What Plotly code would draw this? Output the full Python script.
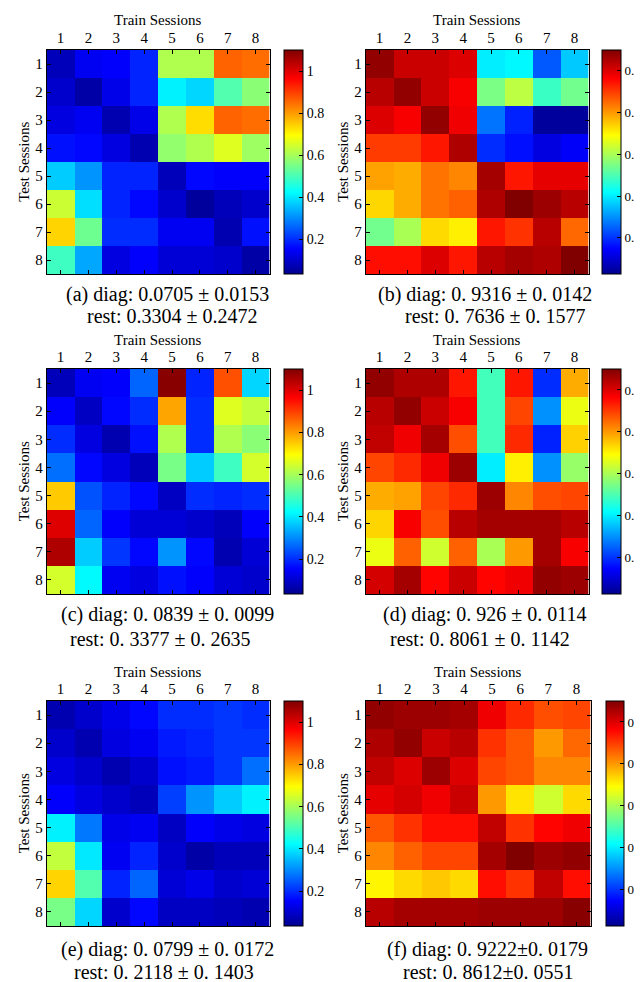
import plotly.graph_objects as go

sessions = [1, 2, 3, 4, 5, 6, 7, 8]

# (a) error rates
z_a = [
    [0.08, 0.14, 0.15, 0.19, 0.61, 0.61, 0.86, 0.85],
    [0.10, 0.06, 0.13, 0.19, 0.41, 0.38, 0.51, 0.57],
    [0.12, 0.14, 0.07, 0.13, 0.61, 0.73, 0.86, 0.85],
    [0.17, 0.16, 0.12, 0.07, 0.58, 0.61, 0.66, 0.59],
    [0.37, 0.31, 0.19, 0.19, 0.08, 0.16, 0.15, 0.15],
    [0.64, 0.39, 0.19, 0.16, 0.10, 0.05, 0.08, 0.10],
    [0.74, 0.54, 0.20, 0.20, 0.14, 0.14, 0.07, 0.17],
    [0.49, 0.33, 0.12, 0.15, 0.11, 0.11, 0.10, 0.06],
]
# (b) accuracies
z_b = [
    [0.94, 0.91, 0.91, 0.90, 0.60, 0.605, 0.52, 0.58],
    [0.92, 0.94, 0.91, 0.885, 0.675, 0.71, 0.64, 0.67],
    [0.90, 0.885, 0.94, 0.89, 0.534, 0.49, 0.42, 0.42],
    [0.85, 0.85, 0.87, 0.925, 0.496, 0.48, 0.456, 0.47],
    [0.795, 0.79, 0.82, 0.81, 0.93, 0.87, 0.895, 0.895],
    [0.767, 0.79, 0.82, 0.83, 0.925, 0.95, 0.935, 0.92],
    [0.67, 0.70, 0.765, 0.754, 0.87, 0.855, 0.92, 0.826],
    [0.875, 0.875, 0.90, 0.87, 0.92, 0.93, 0.925, 0.95],
]
# (c) error rates
z_c = [
    [0.08, 0.14, 0.15, 0.26, 1.09, 0.19, 0.88, 0.38],
    [0.15, 0.09, 0.16, 0.20, 0.79, 0.20, 0.66, 0.63],
    [0.20, 0.12, 0.07, 0.17, 0.61, 0.20, 0.61, 0.57],
    [0.27, 0.16, 0.12, 0.08, 0.55, 0.37, 0.49, 0.65],
    [0.75, 0.24, 0.19, 0.16, 0.09, 0.20, 0.19, 0.20],
    [1.00, 0.26, 0.15, 0.11, 0.11, 0.10, 0.08, 0.15],
    [1.05, 0.37, 0.21, 0.16, 0.31, 0.16, 0.07, 0.11],
    [0.65, 0.42, 0.14, 0.12, 0.17, 0.15, 0.11, 0.10],
]
# (d) accuracies
z_d = [
    [0.94, 0.925, 0.925, 0.87, 0.645, 0.87, 0.496, 0.79],
    [0.92, 0.94, 0.91, 0.885, 0.645, 0.845, 0.55, 0.735],
    [0.915, 0.89, 0.93, 0.84, 0.645, 0.86, 0.49, 0.77],
    [0.845, 0.86, 0.89, 0.935, 0.60, 0.754, 0.55, 0.69],
    [0.79, 0.795, 0.845, 0.86, 0.935, 0.81, 0.84, 0.845],
    [0.768, 0.885, 0.84, 0.92, 0.93, 0.93, 0.93, 0.92],
    [0.735, 0.83, 0.72, 0.83, 0.70, 0.80, 0.93, 0.885],
    [0.905, 0.93, 0.88, 0.91, 0.88, 0.89, 0.94, 0.935],
]
# (e) error rates
z_e = [
    [0.07, 0.10, 0.13, 0.16, 0.20, 0.20, 0.21, 0.20],
    [0.10, 0.07, 0.12, 0.14, 0.18, 0.19, 0.21, 0.21],
    [0.12, 0.10, 0.07, 0.10, 0.17, 0.18, 0.21, 0.27],
    [0.15, 0.12, 0.10, 0.08, 0.22, 0.31, 0.37, 0.41],
    [0.41, 0.28, 0.13, 0.14, 0.09, 0.15, 0.13, 0.12],
    [0.63, 0.40, 0.14, 0.19, 0.10, 0.06, 0.08, 0.08],
    [0.74, 0.51, 0.19, 0.26, 0.11, 0.13, 0.10, 0.11],
    [0.55, 0.38, 0.10, 0.16, 0.09, 0.09, 0.08, 0.07],
]
# (f) accuracies
z_f = [
    [0.94, 0.935, 0.935, 0.93, 0.89, 0.86, 0.84, 0.845],
    [0.925, 0.94, 0.91, 0.92, 0.855, 0.835, 0.80, 0.826],
    [0.915, 0.90, 0.935, 0.90, 0.845, 0.835, 0.81, 0.81],
    [0.895, 0.905, 0.89, 0.91, 0.80, 0.76, 0.72, 0.765],
    [0.835, 0.855, 0.875, 0.875, 0.915, 0.855, 0.88, 0.89],
    [0.81, 0.83, 0.845, 0.845, 0.93, 0.95, 0.935, 0.94],
    [0.75, 0.765, 0.775, 0.765, 0.875, 0.855, 0.915, 0.875],
    [0.92, 0.93, 0.93, 0.93, 0.935, 0.935, 0.935, 0.945],
]

captions = [
    ["(a) diag: 0.0705 ± 0.0153", "rest: 0.3304 ± 0.2472"],
    ["(b) diag: 0. 9316 ± 0. 0142", "rest: 0. 7636 ± 0. 1577"],
    ["(c) diag: 0. 0839 ± 0. 0099", "rest: 0. 3377 ± 0. 2635"],
    ["(d) diag: 0. 926 ± 0. 0114", "rest: 0. 8061 ± 0. 1142"],
    ["(e) diag: 0. 0799 ± 0. 0172", "rest: 0. 2118 ± 0. 1403"],
    ["(f) diag: 0. 9222±0. 0179", "rest: 0. 8612±0. 0551"],
]
x_title = "Train Sessions"
y_title = "Test Sessions"
err_ticks = [0.2, 0.4, 0.6, 0.8, 1.0]
err_labels = ["0.2", "0.4", "0.6", "0.8", "1"]
acc_ticks = [0.5, 0.6, 0.7, 0.8, 0.9]
acc_labels = ["0.5", "0.6", "0.7", "0.8", "0.9"]
err_range = (0.035, 1.10)
acc_range = (0.413, 0.95)

W, H = 642, 982
FONT = "Liberation Serif"

jet = [
    [0.0, "rgb(0,0,143)"],
    [0.111, "rgb(0,0,255)"],
    [0.365, "rgb(0,255,255)"],
    [0.619, "rgb(255,255,0)"],
    [0.873, "rgb(255,0,0)"],
    [1.0, "rgb(128,0,0)"],
]

# panel geometry in pixels: (x0, x1, y0, y1, cbx0, cbw, title_y, cap_y1, cap_y2, cap_x1, cap_x2)
panels = [
    (39, 264, 42, 266, 279, 19, 12, 286, 308, 161, 166),
    (361, 586, 42, 266, 600, 19, 12, 286, 308, 482, 492),
    (39, 264, 361, 586, 279, 19, 332, 606, 631, 161, 153),
    (361, 586, 361, 586, 600, 19, 332, 606, 631, 482, 476),
    (39, 264, 693, 918, 279, 19, 664, 941, 964, 161, 157),
    (361, 588, 693, 918, 604, 18, 664, 941, 964, 484, 485),
]
data = [z_a, z_b, z_c, z_d, z_e, z_f]

fig = go.Figure()
annotations = []
layout = {}
for i, (z, p) in enumerate(zip(data, panels)):
    x0, x1, y0, y1, cbx, cbw, ty, cy1, cy2, cx1, cx2 = p
    is_err = i % 2 == 0
    zr = err_range if is_err else acc_range
    tv = err_ticks if is_err else acc_ticks
    tl = err_labels if is_err else acc_labels
    n = "" if i == 0 else str(i + 1)
    fig.add_trace(go.Heatmap(
        z=z, x=sessions, y=sessions,
        xaxis="x" + n, yaxis="y" + n,
        colorscale=jet, zmin=zr[0], zmax=zr[1],
        colorbar=dict(
            x=cbx / W, xanchor="left", y=1 - y0 / H, yanchor="top",
            len=y1 - y0, lenmode="pixels", thickness=cbw, thicknessmode="pixels",
            xpad=0, ypad=0, outlinecolor="black", outlinewidth=1,
            ticks="inside", ticklen=4, tickcolor="black",
            tickvals=tv, ticktext=tl,
            tickfont=dict(family=FONT, size=14 if is_err else 13, color="black"),
        ),
        hoverinfo="skip",
    ))
    layout["xaxis" + n] = dict(
        domain=[x0 / W, x1 / W], anchor="y" + n, side="top",
        range=[0.5, 8.5], tickvals=sessions, ticks="inside", ticklen=4,
        tickcolor="black", showline=True, linecolor="black", linewidth=1,
        mirror="ticks", showgrid=False, zeroline=False,
        tickfont=dict(family=FONT, size=15, color="black"),
    )
    layout["yaxis" + n] = dict(
        domain=[1 - y1 / H, 1 - y0 / H], anchor="x" + n,
        range=[8.5, 0.5], tickvals=sessions, ticks="inside", ticklen=4,
        tickcolor="black", showline=True, linecolor="black", linewidth=1,
        mirror="ticks", showgrid=False, zeroline=False,
        tickfont=dict(family=FONT, size=15, color="black"),
    )
    cx = (x0 + x1) / 2
    annotations.append(dict(
        text=x_title, x=cx / W, y=1 - ty / H, xref="paper", yref="paper",
        xanchor="center", yanchor="middle", showarrow=False,
        font=dict(family=FONT, size=15, color="black"),
    ))
    annotations.append(dict(
        text=y_title, x=(x0 - 23) / W, y=1 - ((y0 + y1) / 2) / H,
        xref="paper", yref="paper", textangle=-90,
        xanchor="center", yanchor="middle", showarrow=False,
        font=dict(family=FONT, size=15, color="black"),
    ))
    annotations.append(dict(
        text=captions[i][0], x=cx1 / W, y=1 - cy1 / H, xref="paper", yref="paper",
        xanchor="center", yanchor="middle", showarrow=False,
        font=dict(family=FONT, size=20, color="black"),
    ))
    annotations.append(dict(
        text=captions[i][1], x=cx2 / W, y=1 - cy2 / H, xref="paper", yref="paper",
        xanchor="center", yanchor="middle", showarrow=False,
        font=dict(family=FONT, size=20, color="black"),
    ))

fig.update_layout(
    width=W, height=H, margin=dict(l=0, r=0, t=0, b=0),
    paper_bgcolor="white", plot_bgcolor="white",
    showlegend=False, annotations=annotations, **layout,
)
fig.write_html("out.html")
